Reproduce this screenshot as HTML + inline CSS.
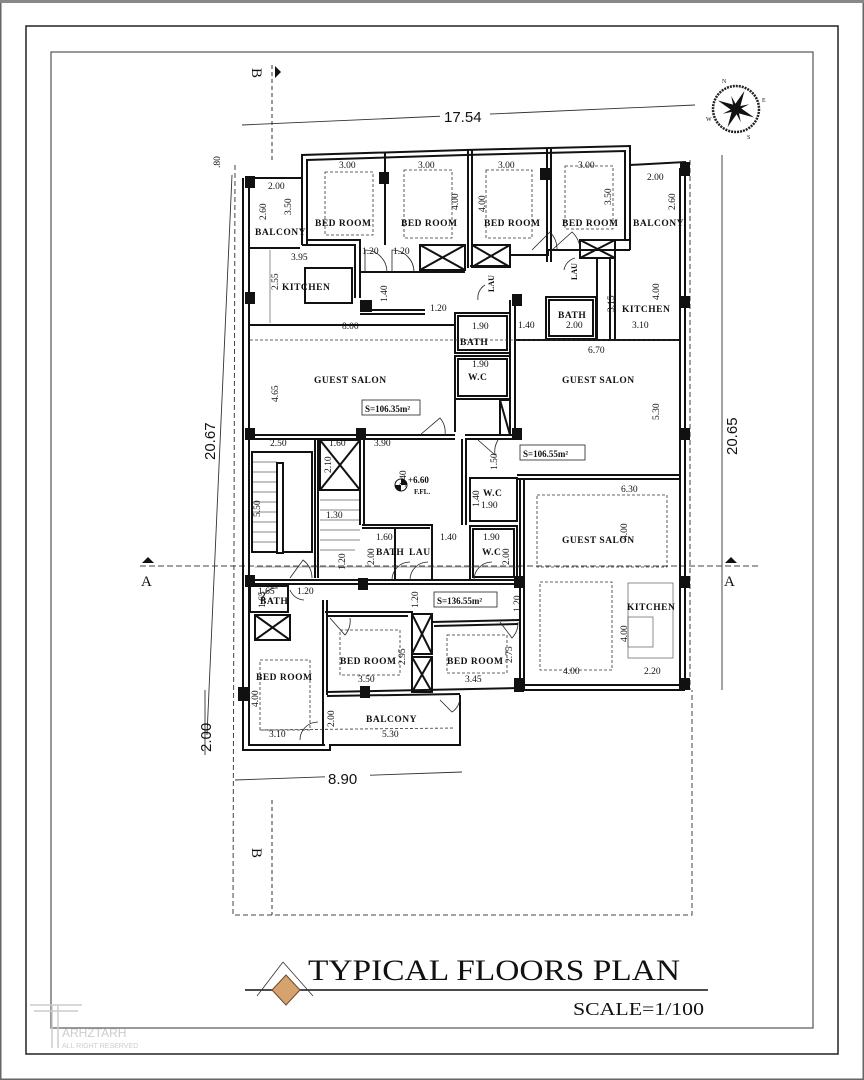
<!DOCTYPE html>
<html><head><meta charset="utf-8"><style>
html,body{margin:0;padding:0;background:#fff}
svg{display:block}
text{font-family:"Liberation Serif",serif;fill:#111}
.lb{font-size:9.5px;font-weight:bold;letter-spacing:.5px}
.d{font-size:9.5px}
</style></head><body>
<svg width="864" height="1080" viewBox="0 0 864 1080" xmlns="http://www.w3.org/2000/svg">
<rect x="0" y="0" width="864" height="1080" fill="#fff"/>
<rect x="0.5" y="0.5" width="863" height="1079" fill="none" stroke="#666" stroke-width="2"/>
<rect x="0" y="0" width="864" height="3" fill="#888"/>
<rect x="26" y="26" width="812" height="1028" fill="none" stroke="#222" stroke-width="1.5"/>
<rect x="51" y="52" width="762" height="976" fill="none" stroke="#555" stroke-width="1.2"/>

<polyline points="235,165 233,915 692,915 692,690" fill="none" stroke="#444" stroke-width="1" stroke-dasharray="5,3"/>
<line x1="690" y1="160" x2="690" y2="690" stroke="#444" stroke-dasharray="5,3"/>

<line x1="242" y1="125" x2="695" y2="105" stroke="#333" stroke-width="0.9"/>
<rect x="440" y="106" width="50" height="16" fill="#fff"/>
<text x="444" y="122" style="font-family:'Liberation Sans',sans-serif;font-size:15px">17.54</text>
<line x1="232" y1="175" x2="207" y2="735" stroke="#333" stroke-width="0.9"/>
<text transform="translate(215,460) rotate(-90)" style="font-family:'Liberation Sans',sans-serif;font-size:15px">20.67</text>
<line x1="205" y1="690" x2="205" y2="755" stroke="#333" stroke-width="0.9"/>
<text transform="translate(211,752) rotate(-90)" style="font-family:'Liberation Sans',sans-serif;font-size:15px">2.00</text>
<line x1="235" y1="780" x2="462" y2="772" stroke="#333" stroke-width="0.9"/>
<rect x="325" y="768" width="45" height="16" fill="#fff"/>
<text x="328" y="784" style="font-family:'Liberation Sans',sans-serif;font-size:15px">8.90</text>
<line x1="722" y1="155" x2="722" y2="690" stroke="#333" stroke-width="0.9"/>
<text transform="translate(737,455) rotate(-90)" style="font-family:'Liberation Sans',sans-serif;font-size:15px">20.65</text>
<text transform="translate(220,168) rotate(-90)" class="d">.80</text>

<line x1="272" y1="65" x2="272" y2="160" stroke="#333" stroke-dasharray="4,3"/>
<text transform="translate(252,68) rotate(90)" style="font-size:15px">B</text>
<polygon points="275,66 281,72 275,78" fill="#111"/>
<line x1="272" y1="800" x2="272" y2="915" stroke="#333" stroke-dasharray="4,3"/>
<text transform="translate(252,848) rotate(90)" style="font-size:15px">B</text>
<line x1="140" y1="566" x2="760" y2="566" stroke="#444" stroke-dasharray="6,3"/>
<text x="141" y="586" style="font-size:15px">A</text>
<polygon points="142,563 148,557 154,563" fill="#111"/>
<text x="724" y="586" style="font-size:15px">A</text>
<polygon points="725,563 731,557 737,563" fill="#111"/>

<g transform="translate(736,109)">
<circle r="23" fill="none" stroke="#222" stroke-width="2.5" stroke-dasharray="2,1"/>
<polygon points="0,-20 3,-3 0,0 -3,-3" fill="#111" transform="rotate(25)"/>
<polygon points="0,20 3,3 0,0 -3,3" fill="#111" transform="rotate(25)"/>
<polygon points="-20,0 -3,3 0,0 -3,-3" fill="#111" transform="rotate(25)"/>
<polygon points="20,0 3,3 0,0 3,-3" fill="#111" transform="rotate(25)"/>
<polygon points="0,-14 2,0 -2,0" fill="#111" transform="rotate(70)"/>
<polygon points="0,-14 2,0 -2,0" fill="#111" transform="rotate(160)"/>
<polygon points="0,-14 2,0 -2,0" fill="#111" transform="rotate(250)"/>
<polygon points="0,-14 2,0 -2,0" fill="#111" transform="rotate(340)"/>
<text x="-14" y="-26" style="font-size:6px">N</text><text x="26" y="-7" style="font-size:6px">E</text>
<text x="-30" y="12" style="font-size:6px">W</text><text x="11" y="30" style="font-size:6px">S</text>
</g>

<g fill="none" stroke="#111" stroke-width="2">
<polyline points="302,245 302,155 465,150 630,146 630,240"/>
<polyline points="307,245 307,160 465,155 625,151 625,240"/>
<polyline points="250,178 302,178"/><polyline points="630,165 685,162 685,690"/><polyline points="680,168 680,690"/>
<polyline points="243,178 243,750 330,750 330,745 460,745 460,695"/><polyline points="249,180 249,745 325,745"/>
<polyline points="520,690 685,690"/><polyline points="520,685 680,685"/>
<line x1="385" y1="152" x2="385" y2="245"/><line x1="468" y1="150" x2="468" y2="268"/><line x1="472" y1="150" x2="472" y2="268"/>
<line x1="547" y1="149" x2="547" y2="262"/><line x1="551" y1="149" x2="551" y2="262"/>
<polyline points="302,245 355,245 355,298"/><polyline points="307,240 360,240 360,298"/>
<polyline points="360,272 465,272"/><polyline points="470,266 510,266 510,255 548,255 548,250 630,250"/>
<polyline points="614,240 630,240 630,250"/><polyline points="615,250 615,340"/>
<polyline points="250,248 300,248"/><line x1="250" y1="325" x2="455" y2="325"/><line x1="360" y1="310" x2="425" y2="310"/><line x1="360" y1="314" x2="425" y2="314"/>
<rect x="305" y="268" width="47" height="35"/>
<rect x="455" y="313" width="55" height="40"/><rect x="458" y="316" width="49" height="34"/>
<rect x="455" y="356" width="55" height="43"/><rect x="458" y="359" width="49" height="37"/>
<polyline points="510,300 510,435"/><polyline points="515,300 515,435"/>
<polyline points="455,400 455,432"/>
<rect x="546" y="297" width="50" height="42"/><rect x="549" y="300" width="44" height="36"/>
<line x1="515" y1="340" x2="680" y2="340"/>
<line x1="597" y1="258" x2="597" y2="340"/><line x1="610" y1="258" x2="610" y2="340"/>
<line x1="249" y1="435" x2="455" y2="435"/><line x1="249" y1="439" x2="455" y2="439"/>
<line x1="465" y1="435" x2="517" y2="435"/><line x1="465" y1="439" x2="517" y2="439"/>
<line x1="517" y1="475" x2="680" y2="475"/><line x1="517" y1="479" x2="680" y2="479"/>
<line x1="318" y1="439" x2="318" y2="578"/><line x1="315" y1="439" x2="315" y2="578"/>
<rect x="320" y="440" width="40" height="50"/>
<line x1="320" y1="440" x2="360" y2="490"/><line x1="360" y1="440" x2="320" y2="490"/>
<line x1="360" y1="439" x2="360" y2="525"/><line x1="364" y1="439" x2="364" y2="525"/>
<line x1="462" y1="439" x2="462" y2="525"/><line x1="466" y1="439" x2="466" y2="525"/>
<polyline points="362,525 432,525 432,580"/><polyline points="362,528 430,528"/>
<line x1="395" y1="528" x2="395" y2="580"/>
<rect x="470" y="478" width="47" height="43"/>
<rect x="470" y="526" width="47" height="54"/><rect x="473" y="529" width="41" height="48"/>
<polyline points="520,480 520,690"/><polyline points="524,480 524,690"/>
<rect x="252" y="452" width="60" height="100"/>
<rect x="277" y="463" width="6" height="90" fill="#fff"/>
<g stroke-width="0.6"><line x1="252" y1="462" x2="277" y2="462"/><line x1="252" y1="472" x2="277" y2="472"/><line x1="252" y1="482" x2="277" y2="482"/><line x1="252" y1="492" x2="277" y2="492"/><line x1="252" y1="502" x2="277" y2="502"/><line x1="252" y1="512" x2="277" y2="512"/><line x1="252" y1="522" x2="277" y2="522"/><line x1="252" y1="532" x2="277" y2="532"/><line x1="252" y1="542" x2="277" y2="542"/>
<line x1="320" y1="500" x2="360" y2="500"/><line x1="320" y1="510" x2="360" y2="510"/><line x1="320" y1="520" x2="360" y2="520"/><line x1="320" y1="530" x2="360" y2="530"/><line x1="320" y1="540" x2="360" y2="540"/><line x1="320" y1="550" x2="355" y2="550"/></g>
<line x1="249" y1="580" x2="520" y2="580"/><line x1="249" y1="584" x2="520" y2="584"/>
<rect x="250" y="586" width="38" height="26"/><rect x="255" y="615" width="35" height="25"/>
<line x1="255" y1="615" x2="290" y2="640"/><line x1="290" y1="615" x2="255" y2="640"/>
<polyline points="323,600 323,745"/><polyline points="327,600 327,695"/>
<polyline points="325,612 412,612 412,690"/><polyline points="327,616 408,616"/>
<rect x="412" y="614" width="20" height="40"/><rect x="412" y="657" width="20" height="35"/>
<line x1="412" y1="614" x2="432" y2="654"/><line x1="432" y1="614" x2="412" y2="654"/>
<line x1="412" y1="657" x2="432" y2="692"/><line x1="432" y1="657" x2="412" y2="692"/>
<polyline points="432,622 520,620"/><polyline points="434,626 518,624"/>
<line x1="327" y1="692" x2="520" y2="688"/><line x1="327" y1="696" x2="460" y2="694"/>
<rect x="420" y="245" width="45" height="25"/><line x1="420" y1="245" x2="465" y2="270"/><line x1="465" y1="245" x2="420" y2="270"/>
<rect x="472" y="245" width="38" height="22"/><line x1="472" y1="245" x2="510" y2="267"/><line x1="510" y1="245" x2="472" y2="267"/>
<rect x="580" y="240" width="35" height="18"/><line x1="580" y1="240" x2="615" y2="258"/><line x1="615" y1="240" x2="580" y2="258"/>
<rect x="500" y="400" width="10" height="35"/><line x1="500" y1="400" x2="510" y2="435"/>
</g>

<g fill="none" stroke="#333" stroke-width="0.8" stroke-dasharray="3,2">
<rect x="325" y="172" width="48" height="63"/><rect x="404" y="170" width="48" height="68"/>
<rect x="486" y="170" width="46" height="68"/><rect x="565" y="166" width="48" height="63"/>
<rect x="537" y="495" width="130" height="72"/><rect x="540" y="582" width="72" height="88"/>
<rect x="260" y="660" width="50" height="70"/><rect x="340" y="630" width="60" height="45"/><rect x="447" y="635" width="60" height="38"/>
<line x1="260" y1="730" x2="455" y2="728"/>
<line x1="250" y1="340" x2="680" y2="340"/>
</g>
<g fill="none" stroke="#444" stroke-width="0.6">
<line x1="270" y1="250" x2="270" y2="323"/><line x1="255" y1="567" x2="520" y2="567"/>
<rect x="628" y="583" width="45" height="75"/><rect x="628" y="617" width="25" height="30"/>
</g>

<g fill="none" stroke="#222" stroke-width="0.8">
<path d="M365,272 L365,250 A22,22 0 0 1 387,272"/><path d="M392,272 L392,250 A22,22 0 0 1 414,272"/>
<path d="M532,250 L550,232 A25,25 0 0 1 557,250"/><path d="M552,250 L572,232 A25,25 0 0 1 580,250"/>
<path d="M420,435 L440,418 A22,22 0 0 1 445,435"/><path d="M478,440 L495,455 A22,22 0 0 1 498,440"/>
<path d="M290,578 L303,560 A22,22 0 0 1 312,578"/><path d="M392,580 A18,18 0 0 1 410,562"/>
<path d="M410,580 A18,18 0 0 1 428,562"/><path d="M474,580 A18,18 0 0 1 492,562"/>
<path d="M330,618 L345,635 A22,22 0 0 0 350,618"/><path d="M500,622 L512,638 A22,22 0 0 0 518,622"/>
<path d="M440,700 L452,712 A18,18 0 0 0 460,697"/><path d="M300,740 A18,18 0 0 1 318,722"/>
<path d="M262,600 A15,15 0 0 1 278,588"/><path d="M290,590 A16,16 0 0 0 304,600"/>
<path d="M478,300 A15,15 0 0 1 485,285"/><path d="M564,270 A15,15 0 0 1 575,258"/>
</g>

<g fill="#111">
<rect x="245" y="176" width="10" height="12"/><rect x="245" y="292" width="10" height="12"/><rect x="245" y="428" width="10" height="12"/>
<rect x="245" y="575" width="10" height="12"/><rect x="238" y="687" width="10" height="14"/>
<rect x="379" y="172" width="10" height="12"/><rect x="540" y="168" width="10" height="12"/><rect x="680" y="162" width="10" height="14"/>
<rect x="360" y="300" width="12" height="12"/><rect x="512" y="294" width="10" height="12"/><rect x="680" y="296" width="10" height="12"/>
<rect x="356" y="428" width="10" height="12"/><rect x="512" y="428" width="10" height="12"/><rect x="680" y="428" width="10" height="12"/>
<rect x="358" y="578" width="10" height="12"/><rect x="514" y="576" width="10" height="12"/><rect x="680" y="576" width="10" height="12"/>
<rect x="360" y="686" width="10" height="12"/><rect x="514" y="678" width="10" height="14"/><rect x="680" y="678" width="10" height="12"/>
</g>

<g class="lb">
<text x="315" y="226" class="lb">BED ROOM</text><text x="401" y="226" class="lb">BED ROOM</text>
<text x="484" y="226" class="lb">BED ROOM</text><text x="562" y="226" class="lb">BED ROOM</text>
<text x="255" y="235" class="lb">BALCONY</text><text x="633" y="226" class="lb">BALCONY</text>
<text x="282" y="290" class="lb">KITCHEN</text><text x="622" y="312" class="lb">KITCHEN</text>
<text x="460" y="345" class="lb">BATH</text><text x="468" y="380" class="lb">W.C</text>
<text x="558" y="318" class="lb">BATH</text>
<text x="314" y="383" class="lb">GUEST SALON</text><text x="562" y="383" class="lb">GUEST SALON</text>
<text x="562" y="543" class="lb">GUEST SALON</text>
<text x="483" y="496" class="lb">W.C</text><text x="482" y="555" class="lb">W.C</text>
<text x="376" y="555" class="lb">BATH</text><text x="409" y="555" class="lb">LAU</text>
<text x="260" y="604" class="lb">BATH</text><text x="627" y="610" class="lb">KITCHEN</text>
<text x="340" y="664" class="lb">BED ROOM</text><text x="447" y="664" class="lb">BED ROOM</text>
<text x="256" y="680" class="lb">BED ROOM</text><text x="366" y="722" class="lb">BALCONY</text>
</g>
<text transform="translate(494,292) rotate(-90)" style="font-size:8px;font-weight:bold">LAU</text>
<text transform="translate(577,280) rotate(-90)" style="font-size:8px;font-weight:bold">LAU</text>

<g fill="none" stroke="#222" stroke-width="0.8">
<rect x="362" y="400" width="58" height="15"/><rect x="520" y="445" width="65" height="15"/><rect x="434" y="592" width="63" height="15"/>
</g>
<text x="365" y="412" style="font-size:9px;font-weight:bold">S=106.35m²</text>
<text x="523" y="457" style="font-size:9px;font-weight:bold">S=106.55m²</text>
<text x="437" y="604" style="font-size:9px;font-weight:bold">S=136.55m²</text>
<circle cx="401" cy="485" r="6" fill="none" stroke="#111"/><path d="M401,479 A6,6 0 0 1 407,485 L401,485Z M401,491 A6,6 0 0 1 395,485 L401,485Z" fill="#111"/>
<text x="408" y="483" style="font-size:9px;font-weight:bold">+6.60</text>
<text x="414" y="494" style="font-size:7px;font-weight:bold">F.FL.</text>

<g class="d">
<text x="339" y="168">3.00</text><text x="418" y="168">3.00</text><text x="498" y="168">3.00</text><text x="578" y="168">3.00</text>
<text x="268" y="189">2.00</text><text x="647" y="180">2.00</text><text x="291" y="260">3.95</text>
<text x="362" y="254">1.20</text><text x="393" y="254">1.20</text><text x="430" y="311">1.20</text>
<text x="342" y="329">8.00</text><text x="518" y="328">1.40</text><text x="566" y="328">2.00</text><text x="632" y="328">3.10</text>
<text x="588" y="353">6.70</text><text x="472" y="329">1.90</text><text x="472" y="367">1.90</text>
<text x="270" y="446">2.50</text><text x="329" y="446">1.60</text><text x="374" y="446">3.90</text>
<text x="326" y="518">1.30</text><text x="621" y="492">6.30</text><text x="481" y="508">1.90</text>
<text x="376" y="540">1.60</text><text x="440" y="540">1.40</text><text x="483" y="540">1.90</text>
<text x="258" y="594">1.65</text><text x="297" y="594">1.20</text>
<text x="358" y="682">3.50</text><text x="465" y="682">3.45</text><text x="563" y="674">4.00</text><text x="644" y="674">2.20</text>
<text x="269" y="737">3.10</text><text x="382" y="737">5.30</text>
</g>
<g class="d">
<text transform="translate(291,215) rotate(-90)">3.50</text><text transform="translate(266,220) rotate(-90)">2.60</text>
<text transform="translate(458,210) rotate(-90)">4.00</text><text transform="translate(485,212) rotate(-90)">4.00</text>
<text transform="translate(611,205) rotate(-90)">3.50</text><text transform="translate(675,210) rotate(-90)">2.60</text>
<text transform="translate(278,290) rotate(-90)">2.55</text><text transform="translate(387,302) rotate(-90)">1.40</text>
<text transform="translate(614,312) rotate(-90)">3.15</text><text transform="translate(659,300) rotate(-90)">4.00</text>
<text transform="translate(278,402) rotate(-90)">4.65</text><text transform="translate(659,420) rotate(-90)">5.30</text>
<text transform="translate(331,473) rotate(-90)">2.10</text><text transform="translate(406,487) rotate(-90)">3.40</text>
<text transform="translate(260,517) rotate(-90)">5.50</text><text transform="translate(497,470) rotate(-90)">1.50</text>
<text transform="translate(479,507) rotate(-90)">1.40</text><text transform="translate(627,540) rotate(-90)">4.00</text>
<text transform="translate(345,570) rotate(-90)">1.20</text><text transform="translate(374,565) rotate(-90)">2.00</text>
<text transform="translate(509,565) rotate(-90)">2.00</text><text transform="translate(418,608) rotate(-90)">1.20</text>
<text transform="translate(520,612) rotate(-90)">1.20</text><text transform="translate(265,608) rotate(-90)">1.65</text>
<text transform="translate(405,665) rotate(-90)">2.95</text><text transform="translate(512,663) rotate(-90)">2.75</text>
<text transform="translate(627,642) rotate(-90)">4.00</text><text transform="translate(258,707) rotate(-90)">4.00</text>
<text transform="translate(334,727) rotate(-90)">2.00</text>
</g>

<line x1="245" y1="990" x2="708" y2="990" stroke="#111" stroke-width="1.5"/>
<line x1="257" y1="996" x2="283" y2="962" stroke="#333" stroke-width="0.8"/><line x1="283" y1="962" x2="313" y2="996" stroke="#333" stroke-width="0.8"/>
<polygon points="286,975 300,990 286,1005 272,990" fill="#d6a26e" stroke="#6b4a2a"/>
<text x="308" y="980" style="font-size:30px" textLength="372" lengthAdjust="spacingAndGlyphs">TYPICAL FLOORS PLAN</text>
<text x="573" y="1015" style="font-size:18px" textLength="131" lengthAdjust="spacingAndGlyphs">SCALE=1/100</text>
<g fill="none" stroke="#ccc" stroke-width="1.5">
<line x1="30" y1="1005" x2="82" y2="1005"/><line x1="34" y1="1011" x2="78" y2="1011"/><line x1="52" y1="1005" x2="52" y2="1048"/><line x1="58" y1="1005" x2="58" y2="1048"/>
</g>
<text x="62" y="1037" style="font-family:'Liberation Sans',sans-serif;font-size:12px;fill:#ccc">ARHZTARH</text>
<text x="62" y="1048" style="font-family:'Liberation Sans',sans-serif;font-size:7px;fill:#ccc">ALL RIGHT RESERVED</text>
</svg>
</body></html>
